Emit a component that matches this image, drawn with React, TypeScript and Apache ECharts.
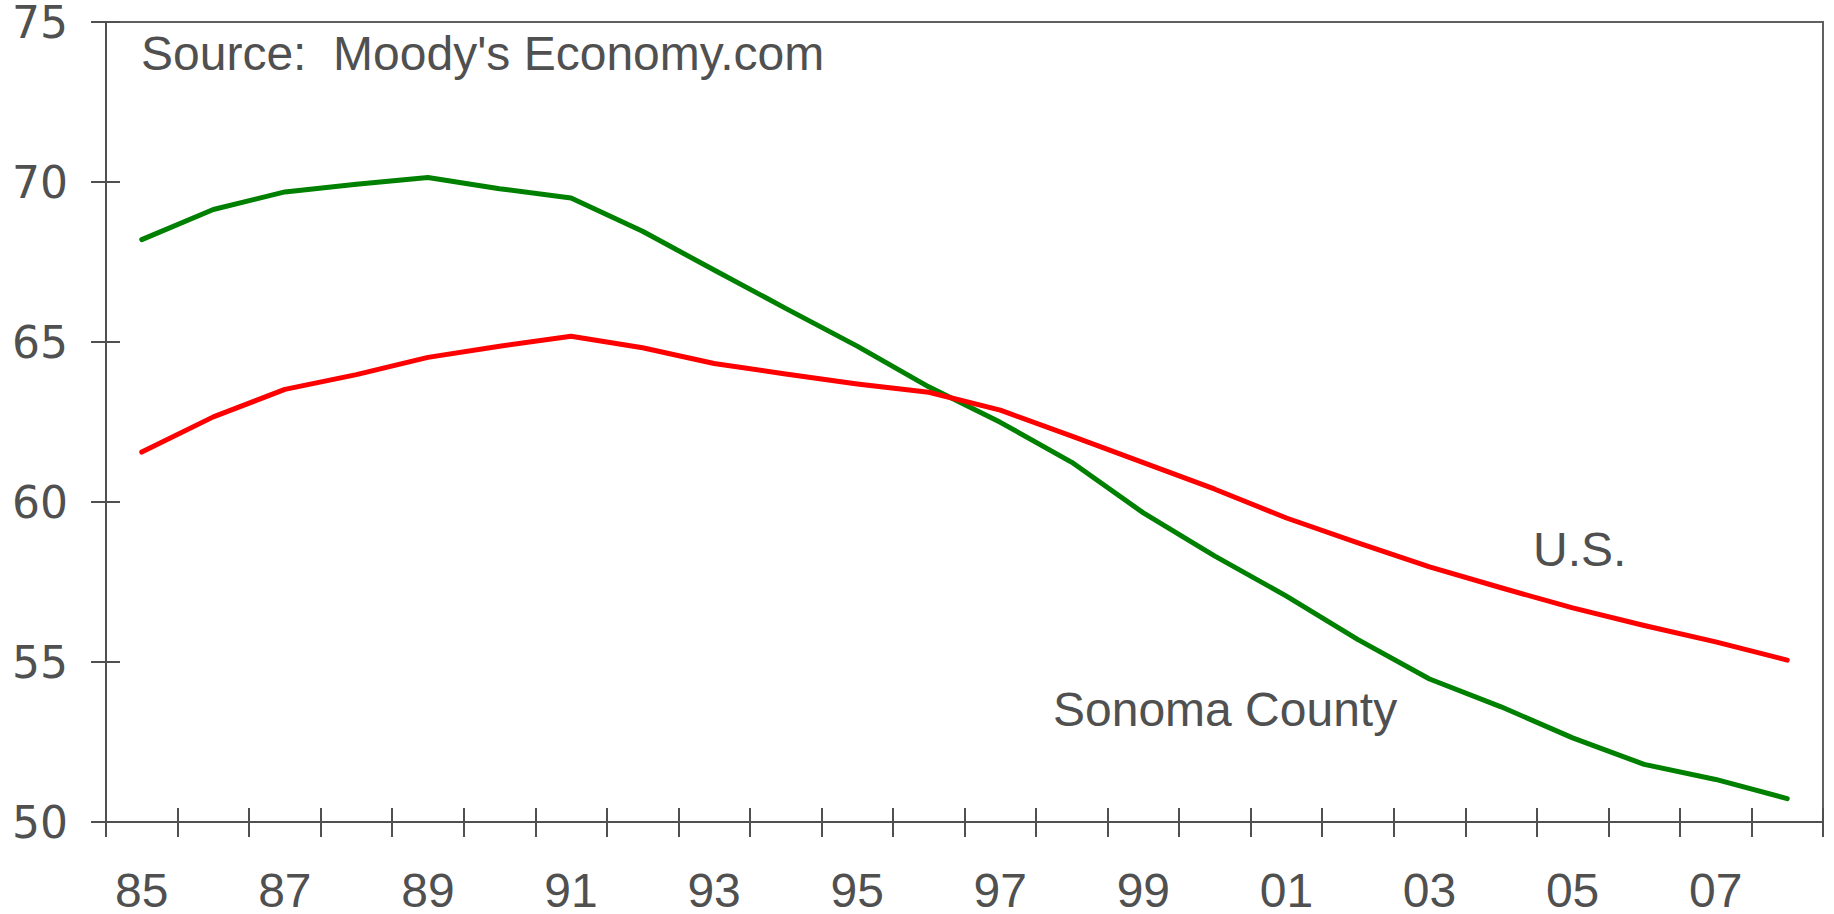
import React, { useEffect, useRef } from "react";
import * as echarts from "echarts";

const years = ["85","86","87","88","89","90","91","92","93","94","95","96","97","98","99","00","01","02","03","04","05","06","07","08"];
const sonoma = [68.2,69.14,69.69,69.93,70.14,69.79,69.5,68.46,67.25,66.05,64.87,63.6,62.49,61.24,59.66,58.31,57.06,55.7,54.47,53.6,52.63,51.8,51.33,50.73];
const us = [61.56,62.66,63.52,63.98,64.52,64.87,65.18,64.82,64.33,64.0,63.69,63.43,62.87,62.06,61.23,60.4,59.5,58.72,57.97,57.32,56.69,56.14,55.63,55.06];
const sourceText = "Source:  Moody's Economy.com";
const usLabel = "U.S.";
const sonomaLabel = "Sonoma County";

const FONT = "'Liberation Sans', Arial, sans-serif";
const YFONT = "'DejaVu Sans', Verdana, sans-serif";
const GRAY = "#505050";

export default function App() {
  const ref = useRef<HTMLDivElement>(null);
  useEffect(() => {
    document.body.style.margin = "0";
    const chart = echarts.init(ref.current!, null, { renderer: "svg" });
    const axisLine = { show: true, lineStyle: { color: GRAY, width: 2 } };
    chart.setOption({
      animation: false,
      backgroundColor: "#ffffff",
      grid: { left: 106, right: 11, top: 22, bottom: 92, show: true, borderColor: "#606060", borderWidth: 2, containLabel: false },
      xAxis: [
        {
          type: "category",
          data: years,
          boundaryGap: true,
          axisLine,
          axisTick: { show: true, interval: 0, length: 15, lineStyle: { color: GRAY, width: 2 } },
          axisLabel: { interval: 1, margin: 48, fontSize: 48, lineHeight: 40, color: GRAY, fontFamily: FONT },
          splitLine: { show: false },
        },
        {
          type: "category",
          data: years,
          position: "bottom",
          boundaryGap: true,
          axisLine: { show: false },
          axisTick: { show: true, inside: true, interval: 0, length: 14, lineStyle: { color: GRAY, width: 2 } },
          axisLabel: { show: false },
          splitLine: { show: false },
        },
      ],
      yAxis: [
        {
          type: "value",
          min: 50,
          max: 75,
          interval: 5,
          axisLine,
          axisTick: { show: true, length: 15, lineStyle: { color: GRAY, width: 2 } },
          axisLabel: { margin: 38, fontSize: 44, lineHeight: 34, color: GRAY, fontFamily: YFONT },
          splitLine: { show: false },
        },
        {
          type: "value",
          min: 50,
          max: 75,
          interval: 5,
          position: "left",
          axisLine: { show: false },
          axisTick: { show: true, inside: true, length: 14, lineStyle: { color: GRAY, width: 2 } },
          axisLabel: { show: false },
          splitLine: { show: false },
        },
      ],
      series: [
        {
          name: "Sonoma County",
          type: "line",
          data: sonoma,
          showSymbol: false,
          symbol: "none",
          lineStyle: { color: "#008000", width: 5, cap: "round", join: "round" },
        },
        {
          name: "U.S.",
          type: "line",
          data: us,
          showSymbol: false,
          symbol: "none",
          lineStyle: { color: "#ff0000", width: 5, cap: "round", join: "round" },
        },
      ],
      graphic: [
        { type: "text", left: 141, top: 29, style: { text: sourceText, fontSize: 48, fill: GRAY, fontFamily: FONT } },
        { type: "text", left: 1533, top: 525, style: { text: usLabel, fontSize: 48, fill: GRAY, fontFamily: FONT } },
        { type: "text", left: 1053, top: 685, style: { text: sonomaLabel, fontSize: 48, fill: GRAY, fontFamily: FONT } },
      ],
    });
    return () => chart.dispose();
  }, []);
  return <div ref={ref} style={{ position: "absolute", left: 0, top: 0, width: 1834, height: 914 }} />;
}
